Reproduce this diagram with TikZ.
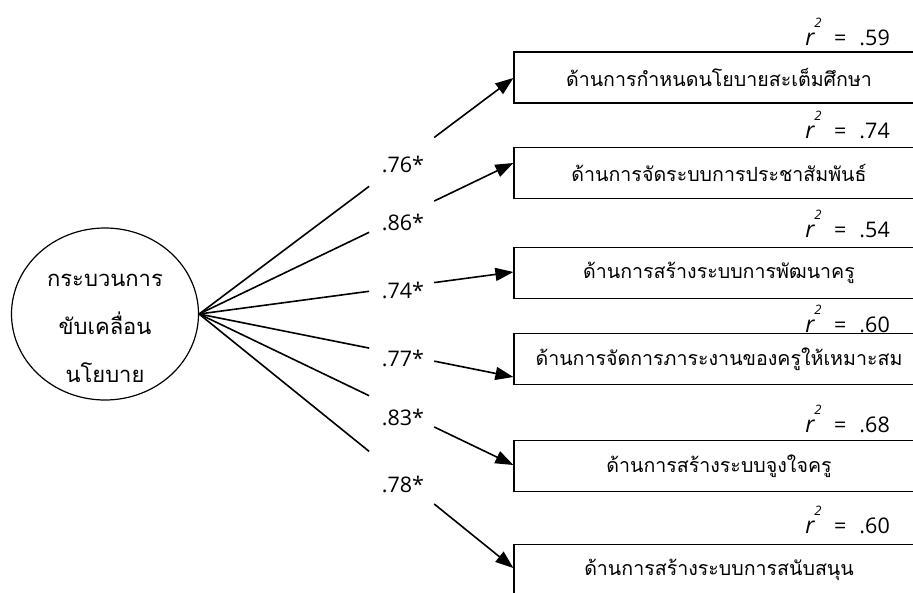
\documentclass[tikz,border=0pt]{standalone}
\usepackage{fontspec}
\setmainfont{Open Sans}
\newfontfamily\thaifont[Script=Thai]{Loma}
\usetikzlibrary{arrows.meta,calc,shapes.geometric}
\tikzset{
  obsbox/.style={draw, line width=1.2pt, minimum width=410pt, minimum height=51pt, inner sep=0pt, font=\thaifont\fontsize{19.6}{22}\selectfont},
  latent/.style={draw, ellipse, line width=1.2pt, minimum width=187pt, minimum height=172pt, inner sep=0pt},
  pathline/.style={line width=1.6pt},
  patharrow/.style={line width=1.6pt, -{Triangle[length=18pt,width=13pt]}},
  coef/.style={anchor=base, inner sep=0pt, font=\fontsize{21.5}{24}\selectfont},
  rsq/.style={anchor=base east, inner sep=0pt, font=\fontsize{21.5}{24}\selectfont},
  rvar/.style={anchor=base, inner sep=0pt, font=\fontsize{23}{24}\selectfont\itshape},
  rexp/.style={anchor=base, inner sep=0pt, font=\fontsize{13}{14}\selectfont\itshape},
}
\begin{document}
\begin{tikzpicture}[x=1pt,y=-1pt]
\useasboundingbox (0,0) rectangle (913,592);
\clip (0,0) rectangle (913,592);
\fill[white] (0,0) rectangle (913,592);
% latent variable
\node[latent] (lv) at (105,314) {};
\node[align=center, inner sep=0pt, font=\thaifont\fontsize{22}{48}\selectfont] (lvt) at (105,328) {กระบวนการ\\ขับเคลื่อน\\นโยบาย};
% boxes
\node[obsbox] (b1) at (719,77.5) {ด้านการกำหนดนโยบายสะเต็มศึกษา};
\node[obsbox] (b2) at (719,173) {ด้านการจัดระบบการประชาสัมพันธ์};
\node[obsbox] (b3) at (719,273) {ด้านการสร้างระบบการพัฒนาครู};
\node[obsbox] (b4) at (719,359) {ด้านการจัดการภาระงานของครูให้เหมาะสม};
\node[obsbox] (b5) at (719,466) {ด้านการสร้างระบบจูงใจครู};
\node[obsbox] (b6) at (719,570) {ด้านการสร้างระบบการสนับสนุน};
% r-square labels
\foreach \y/\v [count=\i] in {45/.59,138/.74,237/.54,332/.60,432/.68,533/.60}{
  \node[rsq] (r\i) at (890,\y) {=\hspace{13pt}\v};
  \node[rvar] (rv\i) at (810,\y) {r};
  \node[rexp] (rx\i) at (818,\y-18) {2};
}
% tips
\coordinate (o) at (lv.east);
\coordinate (t1) at (b1.west |- 0,78);
\coordinate (t2) at (b2.west |- 0,163);
\coordinate (t3) at (b3.west |- 0,272);
\coordinate (t4) at (b4.west |- 0,377);
\coordinate (t5) at (b5.west |- 0,465);
\coordinate (t6) at (b6.west |- 0,568);
\foreach \i/\yb/\lab in {1/172/.76*,2/230/.86*,3/298/.74*,4/366/.77*,5/425/.83*,6/492/.78*}{
  \draw[pathline] (o) -- ($(o)!0.541!(t\i)$) coordinate (a\i);
  \draw[patharrow] ($(o)!0.748!(t\i)$) coordinate (c\i) -- (t\i);
  \node[coef] (l\i) at (403,\yb) {\lab};
}
\end{tikzpicture}
\end{document}
